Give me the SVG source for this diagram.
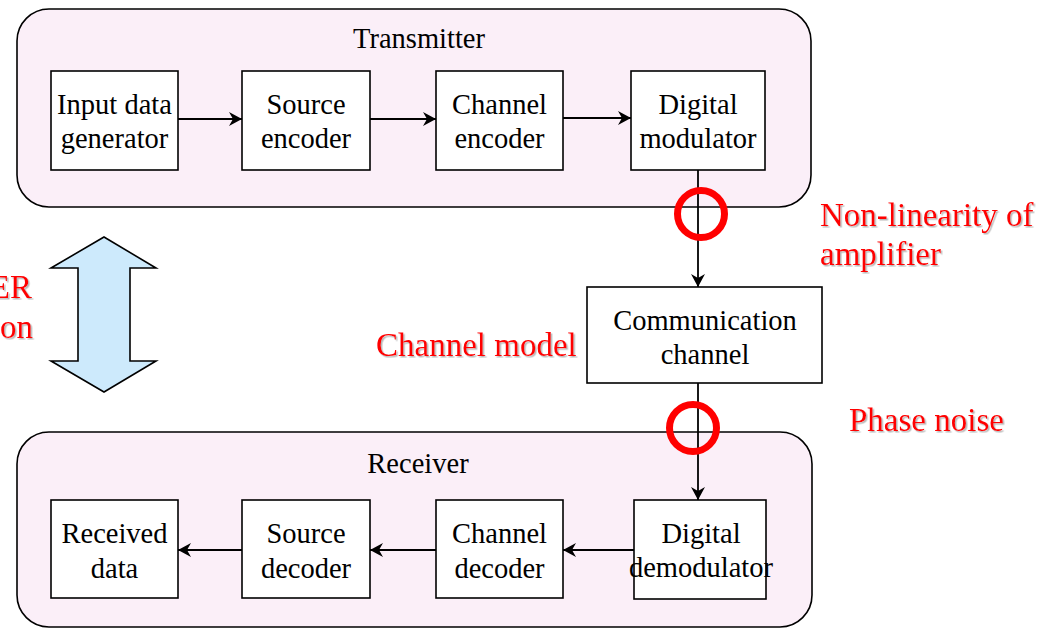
<svg xmlns="http://www.w3.org/2000/svg" width="1050" height="628" viewBox="0 0 1050 628">
  <style>
    .panel { fill: #fbeff8; stroke: #000; stroke-width: 1.6; }
    .box { fill: #fff; stroke: #000; stroke-width: 1.6; }
    .lbl { font-family: "Liberation Serif", "Times New Roman", serif; font-size: 28.5px; fill: #000; text-anchor: middle; }
    .note { font-family: "Liberation Serif", "Times New Roman", serif; font-size: 33px; fill: #ff0000; filter: url(#shade); }
    .wire { fill: none; stroke: #000; stroke-width: 1.8; }
    .ring { fill: none; stroke: #ff0000; stroke-width: 7; }
  </style>
  <defs>
    <marker id="head" viewBox="0 -8 13 16" refX="13" refY="0" markerWidth="13" markerHeight="16" markerUnits="userSpaceOnUse" orient="auto">
      <path d="M0,-7 L13,0 L0,7 L4,0 Z" fill="#000"/>
    </marker>
    <filter id="shade" x="-5%" y="-20%" width="110%" height="140%">
      <feDropShadow dx="1.5" dy="1.5" stdDeviation="0.6" flood-color="#888" flood-opacity="0.6"/>
    </filter>
  </defs>

  <!-- transmitter panel -->
  <g id="transmitter">
    <rect class="panel" x="17" y="9" width="794" height="198" rx="32"/>
    <text class="lbl" x="419" y="48">Transmitter</text>
  </g>
  <!-- receiver panel -->
  <g id="receiver">
    <rect class="panel" x="17" y="432" width="795" height="195" rx="32"/>
    <text class="lbl" x="418" y="473">Receiver</text>
  </g>

  <!-- transmitter chain -->
  <g id="input-data-generator">
    <rect class="box" x="51" y="71" width="127" height="99"/>
    <text class="lbl" x="114.5" y="114">Input data</text>
    <text class="lbl" x="114.5" y="148">generator</text>
  </g>
  <g id="source-encoder">
    <rect class="box" x="242" y="71" width="128" height="99"/>
    <text class="lbl" x="306" y="114">Source</text>
    <text class="lbl" x="306" y="148">encoder</text>
  </g>
  <g id="channel-encoder">
    <rect class="box" x="436" y="71" width="127" height="99"/>
    <text class="lbl" x="499.5" y="114">Channel</text>
    <text class="lbl" x="499.5" y="148">encoder</text>
  </g>
  <g id="digital-modulator">
    <rect class="box" x="631" y="71" width="134" height="99"/>
    <text class="lbl" x="698" y="114">Digital</text>
    <text class="lbl" x="698" y="148">modulator</text>
  </g>

  <!-- channel -->
  <g id="communication-channel">
    <rect class="box" x="587" y="287" width="235" height="96"/>
    <text class="lbl" x="705" y="330">Communication</text>
    <text class="lbl" x="705" y="364">channel</text>
  </g>

  <!-- receiver chain -->
  <g id="received-data">
    <rect class="box" x="51" y="500" width="127" height="98"/>
    <text class="lbl" x="114.5" y="543">Received</text>
    <text class="lbl" x="114.5" y="578">data</text>
  </g>
  <g id="source-decoder">
    <rect class="box" x="242" y="500" width="128" height="98"/>
    <text class="lbl" x="306" y="543">Source</text>
    <text class="lbl" x="306" y="578">decoder</text>
  </g>
  <g id="channel-decoder">
    <rect class="box" x="436" y="500" width="127" height="98"/>
    <text class="lbl" x="499.5" y="543">Channel</text>
    <text class="lbl" x="499.5" y="578">decoder</text>
  </g>
  <g id="digital-demodulator">
    <rect class="box" x="634" y="500" width="132" height="99"/>
    <text class="lbl" x="701" y="543">Digital</text>
    <text class="lbl" x="701" y="577">demodulator</text>
  </g>

  <!-- connectors -->
  <g id="connectors">
    <line class="wire" x1="178" y1="119" x2="242" y2="119" marker-end="url(#head)"/>
    <line class="wire" x1="370" y1="119" x2="436" y2="119" marker-end="url(#head)"/>
    <line class="wire" x1="563" y1="118" x2="631" y2="118" marker-end="url(#head)"/>
    <line class="wire" x1="698" y1="170" x2="698" y2="287" marker-end="url(#head)"/>
    <line class="wire" x1="698" y1="383" x2="698" y2="500" marker-end="url(#head)"/>
    <line class="wire" x1="634" y1="550" x2="563" y2="550" marker-end="url(#head)"/>
    <line class="wire" x1="436" y1="550" x2="370" y2="550" marker-end="url(#head)"/>
    <line class="wire" x1="242" y1="550" x2="178" y2="550" marker-end="url(#head)"/>
  </g>

  <!-- impairment markers -->
  <g id="impairment-points">
    <circle class="ring" cx="701" cy="214" r="23.5"/>
    <circle class="ring" cx="693" cy="428" r="23.5"/>
  </g>

  <!-- two-way arrow between panels -->
  <g id="double-arrow">
    <path d="M104,237 L156,268 L130,268 L130,361 L156,361 L104,392 L51,361 L78,361 L78,268 L51,268 Z" fill="#cdeafc" stroke="#000" stroke-width="1.6" stroke-linejoin="miter"/>
  </g>

  <!-- annotations -->
  <g id="annotations">
    <text class="note" x="32" y="298" text-anchor="end">ER</text>
    <text class="note" x="33" y="338" text-anchor="end">on</text>
    <text class="note" x="376" y="356">Channel model</text>
    <text class="note" x="820" y="226">Non-linearity of</text>
    <text class="note" x="820" y="265">amplifier</text>
    <text class="note" x="849" y="431">Phase noise</text>
  </g>
</svg>
